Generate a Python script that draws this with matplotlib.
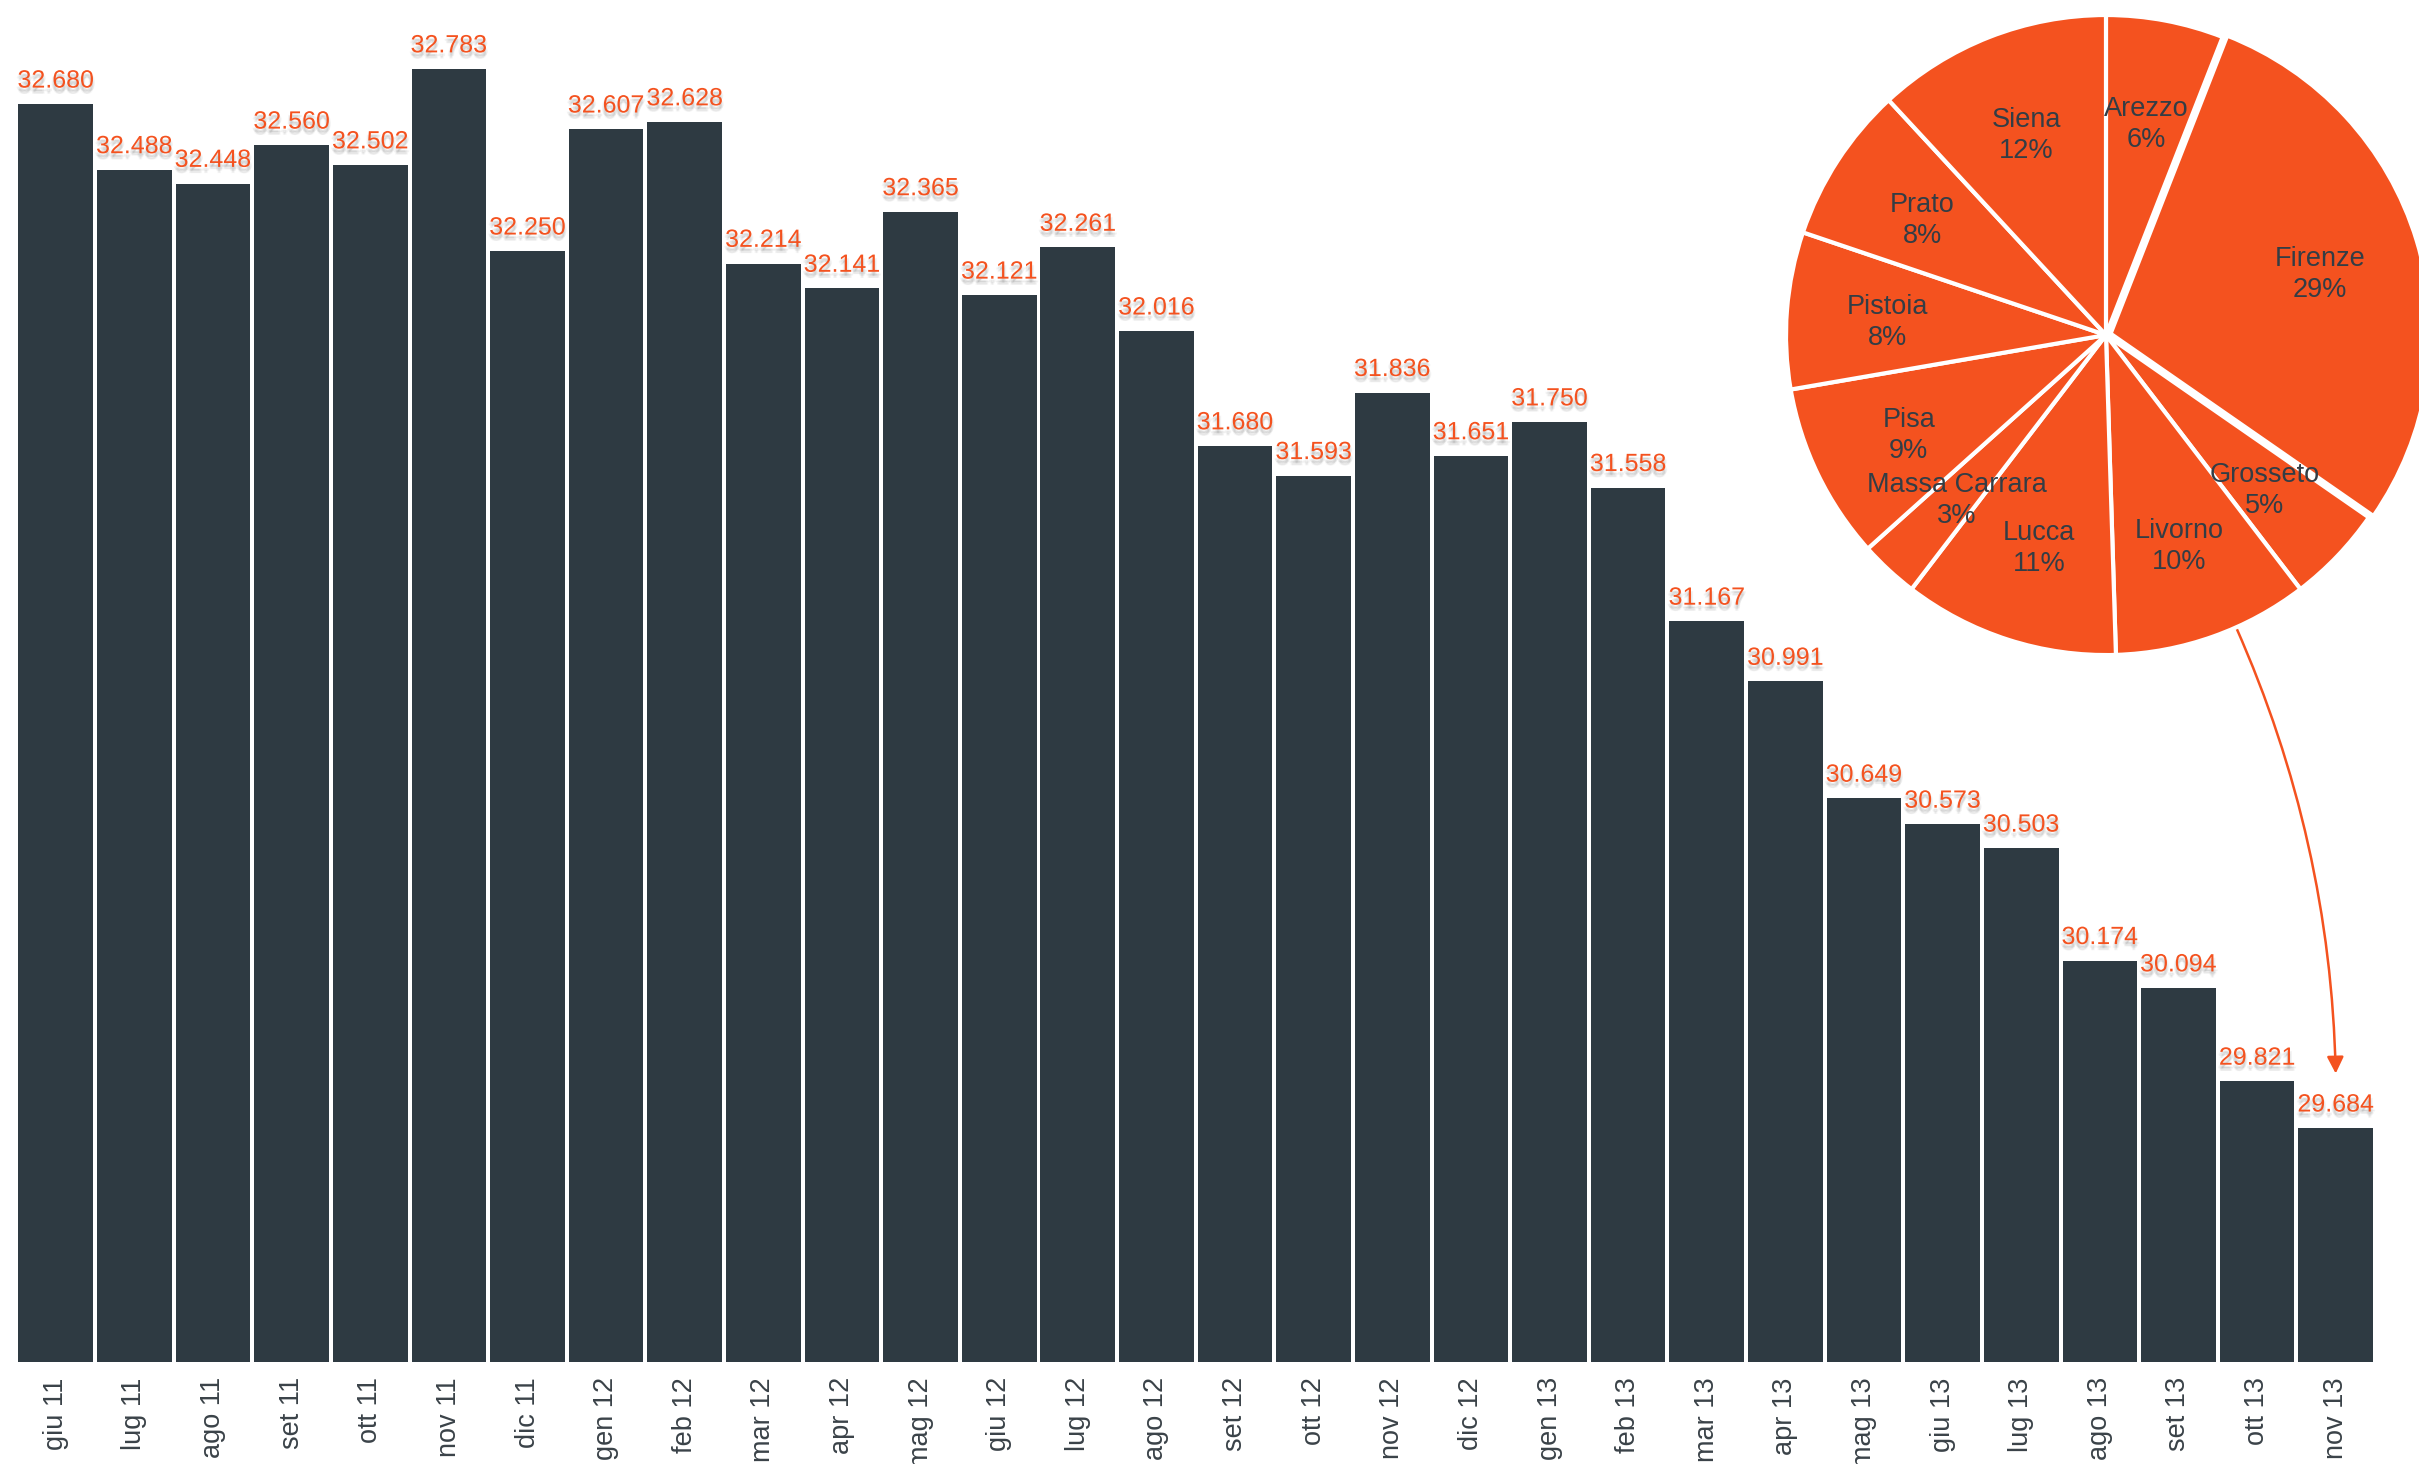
import matplotlib
matplotlib.use("Agg")
import matplotlib.pyplot as plt
from matplotlib import patheffects as pe
import numpy as np

plt.rcParams['font.family'] = ['Liberation Sans', 'DejaVu Sans']

# Monthly totals (thousands) and province shares
months = ['giu 11', 'lug 11', 'ago 11', 'set 11', 'ott 11', 'nov 11', 'dic 11',
          'gen 12', 'feb 12', 'mar 12', 'apr 12', 'mag 12', 'giu 12', 'lug 12',
          'ago 12', 'set 12', 'ott 12', 'nov 12', 'dic 12', 'gen 13', 'feb 13',
          'mar 13', 'apr 13', 'mag 13', 'giu 13', 'lug 13', 'ago 13', 'set 13',
          'ott 13', 'nov 13']
totals = [32680, 32488, 32448, 32560, 32502, 32783, 32250, 32607, 32628, 32214,
          32141, 32365, 32121, 32261, 32016, 31680, 31593, 31836, 31651, 31750,
          31558, 31167, 30991, 30649, 30573, 30503, 30174, 30094, 29821, 29684]

provinces = ['Arezzo', 'Firenze', 'Grosseto', 'Livorno', 'Lucca', 'Massa Carrara',
             'Pisa', 'Pistoia', 'Prato', 'Siena']
shares = [6, 29, 5, 10, 11, 3, 9, 8, 8, 12]

BAR = '#2E3A42'
ORANGE = '#F4521F'
TEXT = '#333D45'
TICK = '#3A4248'

fig = plt.figure(figsize=(24.19, 14.64), dpi=100)

# ---- bar chart ----
ax = fig.add_axes([0.00682, 0.0697, 0.975, 0.9338])
x = np.arange(len(months))
ax.bar(x, totals, width=0.95, color=BAR, edgecolor='none')
ax.set_xlim(-0.5, len(months) - 0.5)
ax.set_ylim(29000, 33000)
for s in ax.spines.values():
    s.set_visible(False)
ax.set_yticks([])
ax.set_xticks(x)
ax.set_xticklabels(months, rotation=90, fontsize=19.5, color=TICK, va='top', ha='center')
ax.tick_params(axis='x', length=0, pad=11)

# soft drop shadow under the value labels
shadow = [pe.SimplePatchShadow(offset=off, shadow_rgbFace='#000000', alpha=0.03)
          for off in [(0, -2), (1, -3), (-1, -3), (0, -4), (0, -3), (1.5, -2.5),
                      (-1.5, -2.5), (0.5, -4.5), (-0.5, -4.5)]]
shadow.append(pe.Normal())

for xi, v in zip(x, totals):
    label = f"{v:,}".replace(',', '.')
    ax.annotate(label, xy=(xi, v), xytext=(0, 12), textcoords='offset points',
                ha='center', va='baseline', fontsize=18, color=ORANGE,
                path_effects=shadow)

# ---- pie chart ----
pax = fig.add_axes([0.7251, 0.5307, 0.2910, 0.4809])
total_share = sum(shares)
pie_labels = [f"{n}\n{100 * s / total_share:.0f}%" for n, s in zip(provinces, shares)]
explode = [0.015 if n == 'Firenze' else 0 for n in provinces]
wedges, texts = pax.pie(shares, labels=pie_labels, startangle=90, counterclock=False,
                        colors=[ORANGE] * len(shares), explode=explode,
                        labeldistance=0.685,
                        wedgeprops=dict(edgecolor='white', linewidth=3),
                        textprops=dict(fontsize=19.5, color=TEXT, linespacing=1.25))
for t in texts:
    t.set_ha('center')
    t.set_va('center')
    tx, ty = t.get_position()
    t.set_position((tx, ty - 0.014))
pax.set_xlim(-1.1, 1.1)
pax.set_ylim(-1.1, 1.1)
pax.set_aspect('auto')
pax.set_axis_off()

# arrow from the pie edge down to the last month
ang = np.deg2rad(24)
ax.annotate('', xy=(x[-1], totals[-1] + 160), xycoords='data',
            xytext=(np.sin(ang), -np.cos(ang)), textcoords=pax.transData,
            arrowprops=dict(arrowstyle='-|>', color=ORANGE, lw=1.8,
                            connectionstyle='arc3,rad=-0.1',
                            shrinkA=0, shrinkB=0, mutation_scale=25),
            annotation_clip=False)

fig.savefig('out.png', dpi=100)
